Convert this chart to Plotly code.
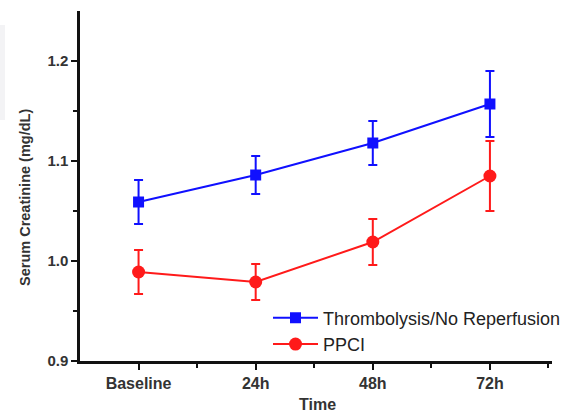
import plotly.graph_objects as go

categories = ["Baseline", "24h", "48h", "72h"]
x_pos = [0, 1, 2, 3]
thrombo_mean = [1.059, 1.086, 1.118, 1.157]
thrombo_err = [0.022, 0.019, 0.022, 0.033]
ppci_mean = [0.989, 0.979, 1.019, 1.085]
ppci_err = [0.022, 0.018, 0.023, 0.035]
y_ticks = [0.9, 1.0, 1.1, 1.2]

BLUE = "#1010ff"
RED = "#ff1a1a"

fig = go.Figure()
fig.add_trace(go.Scatter(
    x=x_pos, y=thrombo_mean, mode="lines+markers", name="Thrombolysis/No Reperfusion",
    line=dict(color=BLUE, width=2),
    marker=dict(symbol="square", size=11, color=BLUE),
    error_y=dict(type="data", array=thrombo_err, color=BLUE, thickness=2, width=4.5),
))
fig.add_trace(go.Scatter(
    x=x_pos, y=ppci_mean, mode="lines+markers", name="PPCI",
    line=dict(color=RED, width=2),
    marker=dict(symbol="circle", size=13, color=RED),
    error_y=dict(type="data", array=ppci_err, color=RED, thickness=2, width=4.5),
))

L, R, T, B = 80, 21, 11, 54
W, H = 573, 415
pw, ph = W - L - R, H - T - B

font_fam = "Liberation Sans, Arial, sans-serif"
fig.update_layout(
    width=W, height=H,
    margin=dict(l=L, r=R, t=T, b=B, autoexpand=False),
    paper_bgcolor="white", plot_bgcolor="white",
    font=dict(family=font_fam, color="#222"),
    showlegend=True,
    legend=dict(xref="container", yref="container",
                x=268 / W, y=(H - 331) / H, xanchor="left", yanchor="middle",
                bgcolor="rgba(0,0,0,0)", font=dict(size=18, color="#222"),
                tracegroupgap=0, itemwidth=45),
    xaxis=dict(
        range=[-0.5, 3.53], tickmode="array", tickvals=x_pos,
        ticktext=["<b>%s</b>" % c for c in categories],
        showline=True, linecolor="#111", linewidth=2.5, showgrid=False, zeroline=False,
        ticks="outside", ticklen=6, tickwidth=2, tickcolor="#111",
        tickfont=dict(size=16, color="#333"), automargin=False,
        minor=dict(tickmode="array", tickvals=[0.5, 1.5, 2.5, 3.5], ticks="outside",
                   ticklen=4, tickwidth=2, tickcolor="#111", showgrid=False),
    ),
    yaxis=dict(
        range=[0.9, 1.25], tickmode="array", tickvals=y_ticks,
        ticktext=["<b>%.1f</b>" % v for v in y_ticks],
        showline=True, linecolor="#111", linewidth=2.5, showgrid=False, zeroline=False,
        ticks="outside", ticklen=6, tickwidth=2, tickcolor="#111",
        tickfont=dict(size=15, color="#333"), automargin=False,
        minor=dict(tickmode="array", tickvals=[0.95, 1.05, 1.15], ticks="outside",
                   ticklen=4, tickwidth=2, tickcolor="#111", showgrid=False),
    ),
    annotations=[
        dict(text="<b>Time</b>", xref="paper", yref="paper",
             x=(317 - L) / pw, y=(H - B - 404) / ph, xanchor="center", yanchor="middle",
             showarrow=False, font=dict(size=16, color="#333")),
        dict(text="<b>Serum Creatinine (mg/dL)</b>", xref="paper", yref="paper",
             x=(25 - L) / pw, y=(H - B - 198) / ph, xanchor="center", yanchor="middle",
             textangle=-90, showarrow=False, font=dict(size=14.5, color="#333")),
    ],
    shapes=[
        dict(type="rect", xref="paper", yref="paper",
             x0=-L / pw, x1=(5 - L) / pw, y0=(H - B - 120) / ph, y1=(H - B - 25) / ph,
             fillcolor="#f3f3f5", line=dict(width=0), layer="below"),
    ],
)

fig.write_html("out.html")
